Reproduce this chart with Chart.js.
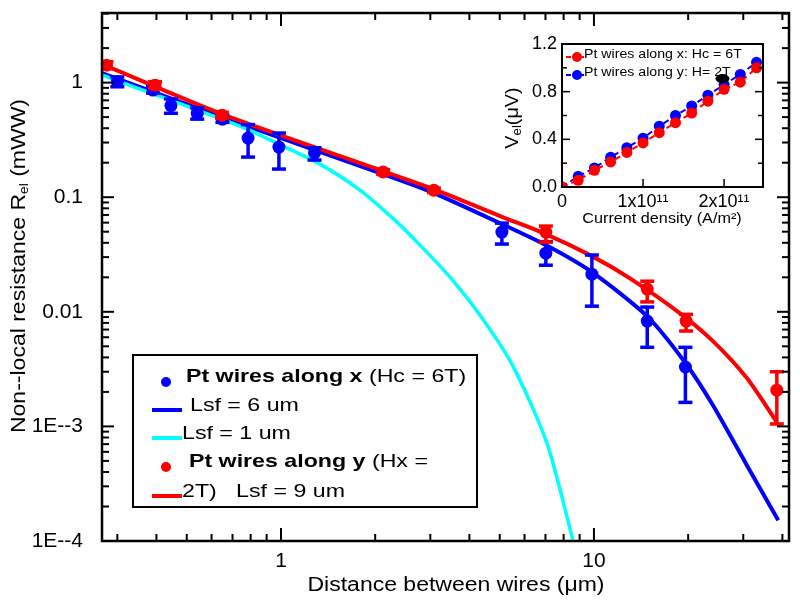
<!DOCTYPE html>
<html lang="en">
<head>
<meta charset="UTF-8">
<title>Non-local resistance vs distance between wires</title>
<script src="https://cdn.jsdelivr.net/npm/chart.js@4.4.0/dist/chart.umd.min.js"></script>
<style>
  body { margin: 0; background: #fff; }
  #wrap { position: relative; width: 800px; height: 610px; }
  #wrap canvas { position: absolute; left: 0; top: 0; }
</style>
</head>
<body>
<div id="wrap">
  <canvas id="main" width="800" height="610"></canvas>
  <canvas id="inset" width="800" height="610"></canvas>
</div>

<script>
// ---------- main plot data (distance in um, resistance in mWW) ----------
// Pt wires along x (Hc = 6T)
var blueDist = [0.30, 0.39, 0.445, 0.54, 0.65, 0.785, 0.985, 1.28, 5.08, 7.02, 9.85, 14.8, 19.6];
var blueR    = [1.02, 0.86, 0.63, 0.54, 0.48, 0.328, 0.274, 0.243, 0.0496, 0.0325, 0.0213, 0.0083, 0.0033];
var blueLo   = [0.92, 0.81, 0.54, 0.48, 0.45, 0.224, 0.176, 0.211, 0.039, 0.0255, 0.0112, 0.0049, 0.00162];
var blueHi   = [1.12, 0.92, 0.72, 0.60, 0.52, 0.43, 0.363, 0.27, 0.0594, 0.041, 0.0313, 0.011, 0.0049];

// Pt wires along y (Hx = 2T)
var redDist = [0.277, 0.396, 0.648, 2.12, 3.08, 7.02, 14.8, 19.7, 38.4];
var redR    = [1.42, 0.95, 0.52, 0.166, 0.115, 0.0496, 0.0158, 0.0083, 0.00207];
var redLo   = [1.32, 0.89, 0.49, 0.158, 0.110, 0.0406, 0.0122, 0.0068, 0.00105];
var redHi   = [1.52, 1.02, 0.55, 0.174, 0.120, 0.056, 0.0185, 0.0095, 0.0030];

// fit curves
var fit6Dist = [0.268, 0.648, 1.284, 2.117, 3.08, 5.08, 7.02, 9.85, 14.77, 19.5, 24.0, 30.8, 38.8];
var fit6R    = [1.21, 0.50, 0.258, 0.159, 0.1086, 0.0583, 0.0382, 0.0222, 0.00918, 0.00365, 0.00153, 0.000459, 0.000152];
var fit1Dist = [0.268, 0.74, 1.015, 1.332, 1.788, 2.348, 2.781, 3.467, 4.323, 5.511, 7.077, 8.567];
var fit1R    = [1.163, 0.417, 0.279, 0.1944, 0.1153, 0.0606, 0.0382, 0.0201, 0.00936, 0.00336, 0.000715, 0.000102];
var fit9Dist = [0.268, 0.648, 2.117, 3.08, 5.08, 7.02, 9.85, 13.0, 18.8, 24.0, 30.8, 38.4];
var fit9R    = [1.45, 0.531, 0.169, 0.1177, 0.0675, 0.0476, 0.0306, 0.0197, 0.00975, 0.00555, 0.00264, 0.00109];

var xMajorTicks = [1, 10];
var xTickLabels = ['1', '10'];
var xMinorTicks = [0.3, 0.4, 0.5, 0.6, 0.7, 0.8, 0.9, 2, 3, 4, 5, 6, 7, 8, 9, 20, 30, 40];
var yMajorTicks = [0.0001, 0.001, 0.01, 0.1, 1];
var yTickLabels = ['1E--4', '1E--3', '0.01', '0.1', '1'];

// ---------- inset data (current density A/m2, voltage uV) ----------
var insetJ  = [0, 2e10, 4e10, 6e10, 8e10, 1e11, 1.2e11, 1.4e11, 1.6e11, 1.8e11, 2e11, 2.2e11, 2.4e11];
var insetVx = [0, 0.056, 0.14, 0.21, 0.29, 0.37, 0.456, 0.54, 0.62, 0.72, 0.82, 0.88, 1.0];
var insetVy = [0, 0.09, 0.16, 0.25, 0.33, 0.41, 0.51, 0.60, 0.68, 0.77, 0.86, 0.945, 1.046];
var insetXTicks = [0, 1e11, 2e11];
var insetXTickLabels = ['0', '1x10\u00B9\u00B9', '2x10\u00B9\u00B9'];
var insetBlob = { x: 1.98e11, y: 0.91 };

var FONT = "'Liberation Sans', Arial, sans-serif";
var BLUE = '#0000ff', RED = '#ff0000', CYAN = '#00ffff';

function pts(xs, ys) {
  return xs.map(function (x, i) { return { x: x, y: ys[i] }; });
}

// keep the plot box exactly where the layout padding puts it
function noScalePadding(s) {
  s.paddingTop = 0; s.paddingBottom = 0; s.paddingLeft = 0; s.paddingRight = 0;
}

// text made of runs (bold part, subscript...), optionally rotated and widened
function drawRuns(ctx, runs, x, y, rot, sx, align) {
  ctx.save();
  ctx.translate(x, y);
  ctx.rotate(rot);
  ctx.scale(sx, 1);
  ctx.fillStyle = '#000';
  ctx.textBaseline = 'middle';
  ctx.textAlign = 'left';
  var total = 0;
  runs.forEach(function (r) { ctx.font = r.font; r.w = ctx.measureText(r.text).width; total += r.w; });
  var cx = align === 'center' ? -total / 2 : 0;
  runs.forEach(function (r) {
    ctx.font = r.font;
    ctx.fillText(r.text, cx, r.dy || 0);
    cx += r.w;
  });
  ctx.restore();
}

function line(ctx, x1, y1, x2, y2) {
  ctx.beginPath(); ctx.moveTo(x1, y1); ctx.lineTo(x2, y2); ctx.stroke();
}

// error bars are drawn just under their point dataset
var errorBars = {
  id: 'errorBars',
  beforeDatasetDraw: function (chart, args) {
    var ds = chart.data.datasets[args.index];
    if (!ds.errLo) return;
    var ctx = chart.ctx, a = chart.chartArea, xs = chart.scales.x, ys = chart.scales.y;
    ctx.save();
    ctx.beginPath(); ctx.rect(a.left, a.top, a.right - a.left, a.bottom - a.top); ctx.clip();
    ctx.strokeStyle = ds.backgroundColor;
    ctx.lineWidth = 3.5;
    ds.data.forEach(function (p, i) {
      var px = xs.getPixelForValue(p.x);
      var lo = ys.getPixelForValue(ds.errLo[i]);
      var hi = ys.getPixelForValue(ds.errHi[i]);
      line(ctx, px, lo, px, hi);
      line(ctx, px - 7, lo, px + 7, lo);
      line(ctx, px - 7, hi, px + 7, hi);
    });
    ctx.restore();
  }
};

// box, inward ticks, titles and legend of the main plot
var mainDecor = {
  id: 'mainDecor',
  afterDraw: function (chart) {
    var ctx = chart.ctx, a = chart.chartArea, xs = chart.scales.x, ys = chart.scales.y;
    ctx.save();
    ctx.strokeStyle = '#000';
    ctx.lineWidth = 2;
    xMajorTicks.forEach(function (v) {
      var px = xs.getPixelForValue(v);
      line(ctx, px, a.bottom, px, a.bottom - 13);
      line(ctx, px, a.top, px, a.top + 13);
    });
    xMinorTicks.forEach(function (v) {
      var px = xs.getPixelForValue(v);
      line(ctx, px, a.bottom, px, a.bottom - 7);
      line(ctx, px, a.top, px, a.top + 7);
    });
    yMajorTicks.forEach(function (v) {
      var py = ys.getPixelForValue(v);
      line(ctx, a.left, py, a.left + 12, py);
      line(ctx, a.right, py, a.right - 12, py);
    });
    yMajorTicks.forEach(function (d) {
      for (var k = 2; k <= 9; k++) {
        var v = d * k;
        if (v > ys.max) break;
        var py = ys.getPixelForValue(v);
        line(ctx, a.left, py, a.left + 7, py);
        line(ctx, a.right, py, a.right - 7, py);
      }
    });
    ctx.lineWidth = 2.5;
    ctx.strokeRect(a.left, a.top, a.right - a.left, a.bottom - a.top);

    // axis titles
    drawRuns(ctx, [
      { text: 'Non--local resistance R', font: '20px ' + FONT },
      { text: 'el', font: '12px ' + FONT, dy: 6 },
      { text: ' (mWW)', font: '20px ' + FONT }
    ], 19, 266, -Math.PI / 2, 1.15, 'center');
    drawRuns(ctx, [{ text: 'Distance between wires (\u03BCm)', font: '20px ' + FONT }],
      456, 585, 0, 1.15, 'center');

    // legend
    ctx.fillStyle = '#fff';
    ctx.fillRect(133, 355, 344, 152);
    ctx.lineWidth = 2;
    ctx.strokeStyle = '#000';
    ctx.strokeRect(133, 355, 344, 152);
    ctx.fillStyle = BLUE;
    ctx.beginPath(); ctx.arc(166, 382, 5, 0, Math.PI * 2); ctx.fill();
    ctx.fillStyle = RED;
    ctx.beginPath(); ctx.arc(166, 467, 5, 0, Math.PI * 2); ctx.fill();
    ctx.lineWidth = 4;
    ctx.strokeStyle = BLUE; line(ctx, 152, 410, 182, 410);
    ctx.strokeStyle = CYAN; line(ctx, 152, 438, 182, 438);
    ctx.strokeStyle = RED; line(ctx, 152, 496, 182, 496);
    var f = '19px ' + FONT, fb = 'bold 19px ' + FONT, s = 1.22;
    drawRuns(ctx, [{ text: 'Pt wires along x', font: fb }, { text: ' (Hc = 6T)', font: f }], 186, 377, 0, s);
    drawRuns(ctx, [{ text: 'Lsf = 6 um', font: f }], 190, 406, 0, s);
    drawRuns(ctx, [{ text: 'Lsf = 1 um', font: f }], 182, 434, 0, s);
    drawRuns(ctx, [{ text: 'Pt wires along y', font: fb }, { text: ' (Hx =', font: f }], 189, 462, 0, s);
    drawRuns(ctx, [{ text: '2T)   Lsf = 9 um', font: f }], 182, 492, 0, s);
    ctx.restore();
  }
};

new Chart(document.getElementById('main'), {
  type: 'scatter',
  data: {
    datasets: [
      { label: 'Pt wires along y', data: pts(redDist, redR), errLo: redLo, errHi: redHi,
        backgroundColor: RED, pointRadius: 6.5, pointBorderWidth: 0, order: 0, clip: 0 },
      { label: 'Pt wires along x', data: pts(blueDist, blueR), errLo: blueLo, errHi: blueHi,
        backgroundColor: BLUE, pointRadius: 6.5, pointBorderWidth: 0, order: 1, clip: 0 },
      { label: 'Lsf = 9 um', data: pts(fit9Dist, fit9R), showLine: true, borderColor: RED,
        borderWidth: 4, pointRadius: 0, tension: 0.25, order: 2, clip: 0 },
      { label: 'Lsf = 1 um', data: pts(fit1Dist, fit1R), showLine: true, borderColor: CYAN,
        borderWidth: 3.5, pointRadius: 0, tension: 0.25, order: 3, clip: 0 },
      { label: 'Lsf = 6 um', data: pts(fit6Dist, fit6R), showLine: true, borderColor: BLUE,
        borderWidth: 4, pointRadius: 0, tension: 0.25, order: 4, clip: 0 }
    ]
  },
  options: {
    responsive: false,
    animation: false,
    devicePixelRatio: 1,
    events: [],
    layout: { padding: { top: 13, right: 11, left: 0, bottom: 0 } },
    plugins: { legend: { display: false }, tooltip: { enabled: false } },
    scales: {
      x: {
        type: 'logarithmic', min: 0.268, max: 42,
        afterBuildTicks: function (s) { s.ticks = xMajorTicks.map(function (v) { return { value: v }; }); },
        afterFit: function (s) { s.height = 69; noScalePadding(s); },
        ticks: {
          autoSkip: false, maxRotation: 0, padding: 8, color: '#000',
          font: { family: FONT, size: 21 },
          callback: function (v, i) { return xTickLabels[i]; }
        },
        grid: { display: false, drawTicks: false },
        border: { display: false }
      },
      y: {
        type: 'logarithmic', min: 0.0001, max: 4.05,
        afterBuildTicks: function (s) { s.ticks = yMajorTicks.map(function (v) { return { value: v }; }); },
        afterFit: function (s) { s.width = 102; noScalePadding(s); },
        ticks: {
          autoSkip: false, padding: 19, color: '#000',
          font: { family: FONT, size: 21 },
          callback: function (v, i) { return yTickLabels[i]; }
        },
        grid: { display: false, drawTicks: false },
        border: { display: false }
      }
    }
  },
  plugins: [errorBars, mainDecor]
});

// ---------- inset ----------
var insetDecor = {
  id: 'insetDecor',
  afterDraw: function (chart) {
    var ctx = chart.ctx, a = chart.chartArea, xs = chart.scales.x, ys = chart.scales.y;
    ctx.save();
    // black blot present in the original figure
    ctx.fillStyle = '#000';
    ctx.beginPath();
    ctx.ellipse(xs.getPixelForValue(insetBlob.x), ys.getPixelForValue(insetBlob.y), 7, 4.5, 0, 0, Math.PI * 2);
    ctx.fill();

    ctx.strokeStyle = '#000';
    ctx.lineWidth = 1.5;
    [0.2, 0.4, 0.6, 0.8, 1.0].forEach(function (v) {
      var py = ys.getPixelForValue(v);
      var len = Math.abs(v - 0.4) < 1e-6 || Math.abs(v - 0.8) < 1e-6 ? 8 : 5;
      line(ctx, a.left, py, a.left + len, py);
      line(ctx, a.right, py, a.right - len, py);
    });
    [1e11, 2e11].forEach(function (v) {
      var px = xs.getPixelForValue(v);
      line(ctx, px, a.bottom, px, a.bottom - 8);
    });
    ctx.lineWidth = 2;
    ctx.strokeRect(a.left, a.top, a.right - a.left, a.bottom - a.top);

    drawRuns(ctx, [
      { text: 'V', font: '18px ' + FONT },
      { text: 'el', font: '12px ' + FONT, dy: 5 },
      { text: '(\u03BCV)', font: '18px ' + FONT }
    ], 513, 118, -Math.PI / 2, 1.1, 'center');
    drawRuns(ctx, [{ text: 'Current density (A/m\u00B2)', font: '15px ' + FONT }],
      662, 219, 0, 1.08, 'center');

    // inset legend
    var rows = [
      { c: RED, y: 57, ty: 55, t: 'Pt wires along x: Hc = 6T' },
      { c: BLUE, y: 75, ty: 73, t: 'Pt wires along y: H= 2T' }
    ];
    rows.forEach(function (r) {
      ctx.strokeStyle = r.c;
      ctx.lineWidth = 2;
      ctx.setLineDash([5, 3]);
      line(ctx, 566, r.y, 584, r.y);
      ctx.setLineDash([]);
      ctx.fillStyle = r.c;
      ctx.beginPath(); ctx.arc(577, r.y, 5, 0, Math.PI * 2); ctx.fill();
      drawRuns(ctx, [{ text: r.t, font: '12px ' + FONT }], 584, r.ty, 0, 1.18);
    });
    ctx.restore();
  }
};

new Chart(document.getElementById('inset'), {
  type: 'line',
  data: {
    datasets: [
      { label: 'Pt wires along x: Hc = 6T', data: pts(insetJ, insetVx), borderColor: RED,
        backgroundColor: RED, borderWidth: 2, borderDash: [6, 4], pointRadius: 5.5,
        pointBorderWidth: 0, clip: 0 },
      { label: 'Pt wires along y: H= 2T', data: pts(insetJ, insetVy), borderColor: BLUE,
        backgroundColor: BLUE, borderWidth: 2, borderDash: [6, 4], pointRadius: 5.5,
        pointBorderWidth: 0, clip: 0 }
    ]
  },
  options: {
    responsive: false,
    animation: false,
    devicePixelRatio: 1,
    events: [],
    layout: { padding: { top: 44, right: 37, left: 502, bottom: 373 } },
    plugins: { legend: { display: false }, tooltip: { enabled: false } },
    scales: {
      x: {
        type: 'linear', min: 0, max: 2.48e11,
        afterBuildTicks: function (s) { s.ticks = insetXTicks.map(function (v) { return { value: v }; }); },
        afterFit: function (s) { s.height = 50; noScalePadding(s); },
        ticks: {
          autoSkip: false, maxRotation: 0, padding: 4, color: '#000',
          font: { family: FONT, size: 18 },
          callback: function (v, i) { return insetXTickLabels[i]; }
        },
        grid: { display: false, drawTicks: false },
        border: { display: false }
      },
      y: {
        min: 0, max: 1.2,
        afterFit: function (s) { s.width = 60; noScalePadding(s); },
        ticks: {
          stepSize: 0.4, padding: 5, color: '#000',
          font: { family: FONT, size: 18 },
          callback: function (v) { return v.toFixed(1); }
        },
        grid: { display: false, drawTicks: false },
        border: { display: false }
      }
    }
  },
  plugins: [insetDecor]
});
</script>
</body>
</html>
